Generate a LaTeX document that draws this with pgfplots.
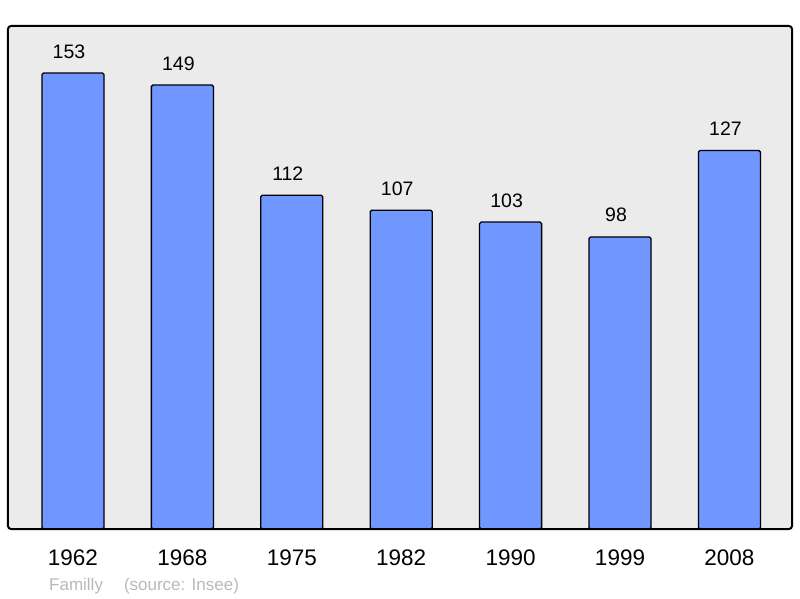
\documentclass[border=0pt]{standalone}
\usepackage{pgfplots}
\pgfplotsset{compat=1.18}
\usepackage{fontspec}
\setmainfont{Liberation Sans}
\definecolor{barblue}{RGB}{112,150,255}
\definecolor{bggray}{RGB}{235,235,235}
\definecolor{footgray}{RGB}{185,185,185}
\begin{document}
\begin{tikzpicture}[x=1pt,y=1pt]
\path[use as bounding box] (0,0) rectangle (800,598);
\begin{axis}[
  at={(8pt,69pt)}, anchor=south west,
  scale only axis, width=784pt, height=503pt,
  xmin=-0.594, xmax=6.572, ymin=0, ymax=168.8,
  axis line style={draw=none},
  ytick=\empty,
  xtick={0,1,2,3,4,5,6},
  xticklabels={1962,1968,1975,1982,1990,1999,2008},
  major tick length=0pt,
  xticklabel style={font=\fontsize{22.5}{24}\selectfont, anchor=base, inner sep=0pt, yshift=-36pt},
  /pgf/number format/assume math mode=true,
  clip=false,
]
\fill[bggray, rounded corners=3pt] (rel axis cs:0,0) rectangle (rel axis cs:1,1);
\addplot[ybar, bar width=0.567, fill=barblue, draw=black, line width=1.3pt, rounded corners=1.5pt,
  nodes near coords,
  every node near coord/.style={anchor=base, inner sep=0pt, yshift=15pt, xshift=-4pt, font=\fontsize{19.5}{21}\selectfont, black}]
  coordinates {(0,153) (1,149) (2,112) (3,107) (4,103) (5,98) (6,127)};
\draw[line width=2pt, rounded corners=3pt] (rel axis cs:0,0) rectangle (rel axis cs:1,1);
\end{axis}
\node[anchor=base west, inner sep=0pt, text=footgray, font=\fontsize{17}{19}\selectfont] at (49,8) {Familly\hspace{21pt}(source: Insee)};
\end{tikzpicture}
\end{document}
